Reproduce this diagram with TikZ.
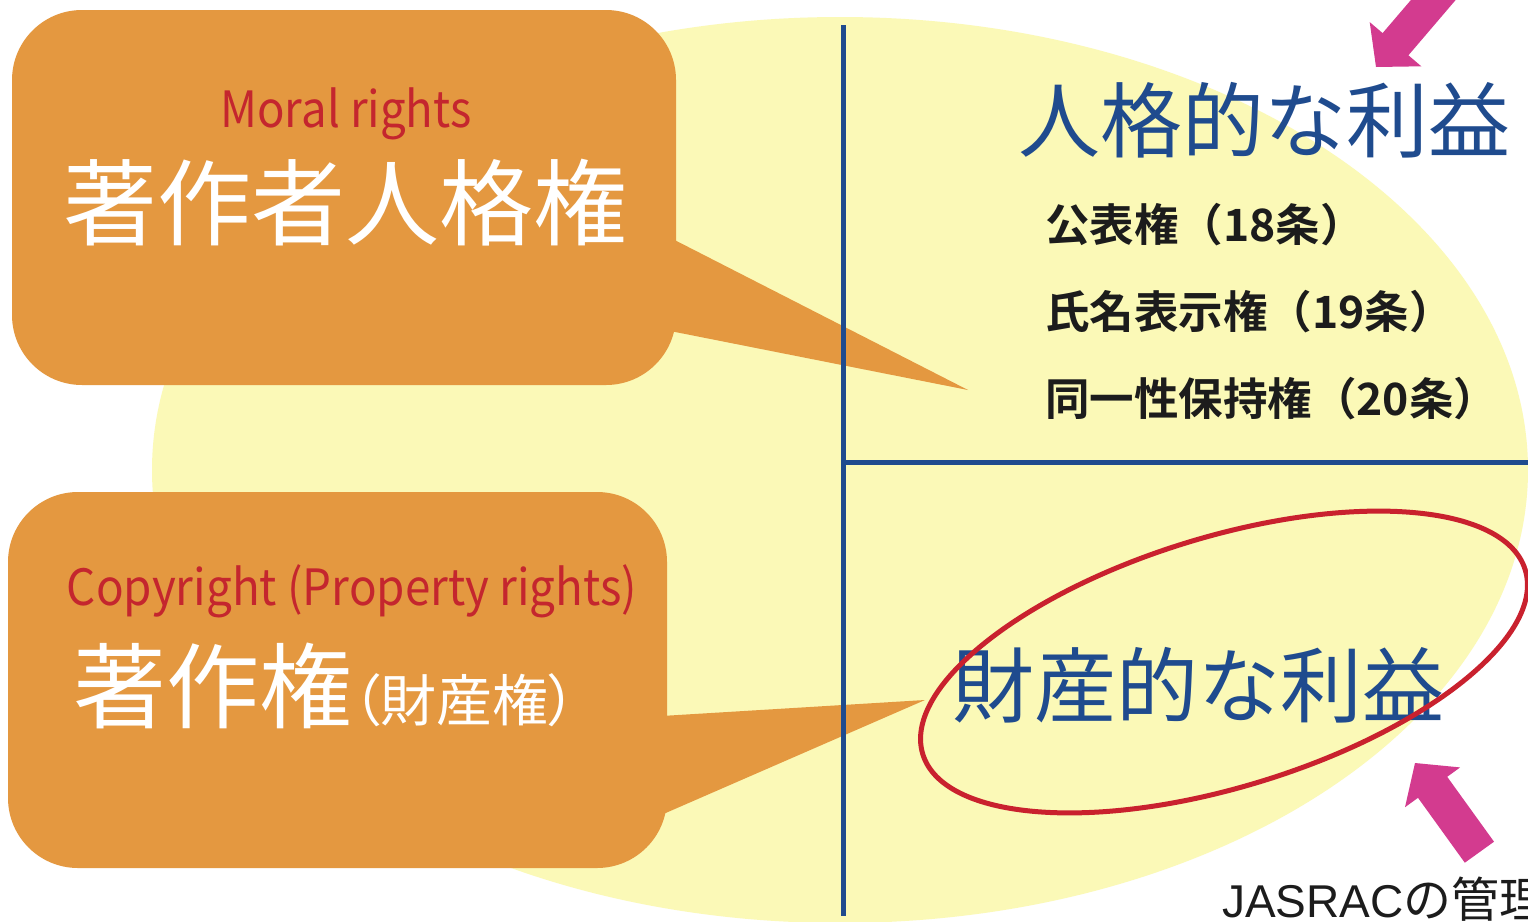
\documentclass[tikz,border=0pt]{standalone}
\usepackage{fontspec}
\usetikzlibrary{shapes.geometric}
\setmainfont{Noto Sans CJK JP}
\newfontfamily\jp{Noto Sans CJK JP}
\newfontfamily\jpp[RawFeature=+palt]{Noto Sans CJK JP}
\newfontfamily\jpb{Noto Sans CJK JP Bold}
\newfontfamily\arialish{Liberation Sans}
\definecolor{ylw}{RGB}{251,249,183}
\definecolor{orng}{RGB}{228,152,64}
\definecolor{redtxt}{RGB}{196,38,46}
\definecolor{navy}{RGB}{31,75,142}
\definecolor{pinkc}{RGB}{211,59,143}
\definecolor{redline}{RGB}{201,33,46}
\definecolor{darktxt}{RGB}{28,28,28}
\tikzset{
  bubble/.style={fill=orng, draw=none, rounded corners=70pt, inner sep=0pt},
  bluerule/.style={draw=navy, line width=5pt},
  entxt/.style={text=redtxt, inner sep=0pt, font=\jp\fontsize{50}{50}\selectfont},
  bigwhite/.style={text=white, inner sep=0pt},
  headtxt/.style={text=navy, inner sep=0pt, font=\jp\fontsize{82}{82}\selectfont},
  itemtxt/.style={text=darktxt, inner sep=0pt, anchor=west, font=\jpb\fontsize{44.5}{44.5}\selectfont},
  pinkarrow/.style={fill=pinkc, draw=none}
}
\begin{document}
\begin{tikzpicture}[x=1pt,y=-1pt]
\useasboundingbox (0,0) rectangle (1528,921);
\clip (0,0) rectangle (1528,921);
\fill[white] (0,0) rectangle (1528,921);
% yellow background ellipse
\fill[ylw] (840,470) ellipse [x radius=688, y radius=453];

% top callout
\node[bubble, minimum width=664pt, minimum height=375pt] (box1) at (344,197.5) {};
\coordinate (tip1) at (968,390);
\fill[orng] (655,230) -- (tip1) -- (655,328) -- cycle;

% bottom callout
\node[bubble, minimum width=659pt, minimum height=376pt] (box2) at (337.5,680) {};
\coordinate (tip2) at (925,700);
\fill[orng] (645,717) -- (tip2) -- (645,822) -- cycle;

% blue rules
\coordinate (vtop) at (843,25);
\coordinate (vbot) at (843,916);
\coordinate (hleft) at (843,462);
\coordinate (hright) at (1528,462);
\draw[bluerule] (vtop) -- (vbot);
\draw[bluerule] (hleft) -- (hright);

% callout texts
\node[entxt, anchor=base] (moral) at (346,127) {\scalebox{0.91}[1]{Moral rights}};
\node[bigwhite, font=\jp\fontsize{94}{94}\selectfont] (jinkaku) at (345,203) {著作者人格権};
\node[entxt, anchor=base] (copy) at (352,605) {\scalebox{0.915}[1]{Copyright (Property rights)}};
\node[bigwhite, anchor=base west] (chosaku) at (73,721) {{\jp\fontsize{93}{93}\selectfont 著作権}{\jpp\fontsize{56}{56}\selectfont （財産権）}};

% right side texts
\node[headtxt] (pers) at (1264,120) {人格的な利益};
\node[itemtxt] (i1) at (1045,225) {公表権（18条）};
\node[itemtxt] (i2) at (1045,312) {氏名表示権（19条）};
\node[itemtxt] (i3) at (1045,399) {同一性保持権（20条）};
\node[headtxt] (prop) at (1198,685) {財産的な利益};

% red oval
\node[ellipse, draw=redline, line width=5pt, minimum width=630pt, minimum height=250pt, inner sep=0pt, rotate=17] (oval) at (1224,662) {};

% pink arrows
\fill[pinkarrow] (1376,67) -- (1421.3,66.3) -- (1408.4,55.3) -- (1466.9,-13.2) -- (1441.1,-35.3) -- (1382.6,33.1) -- (1369.7,22.1) -- cycle;
\fill[pinkarrow] (1415,763) -- (1460.1,767.4) -- (1447.2,776.8) -- (1494.0,841.7) -- (1464.8,862.7) -- (1418.0,797.8) -- (1405.0,807.2) -- cycle;

% JASRAC label
\node[text=darktxt, inner sep=0pt, anchor=base west] (jasrac) at (1222,917) {{\arialish\fontsize{46}{46}\selectfont JASRAC}{\jp\fontsize{48}{48}\selectfont の管理}};
\end{tikzpicture}
\end{document}
